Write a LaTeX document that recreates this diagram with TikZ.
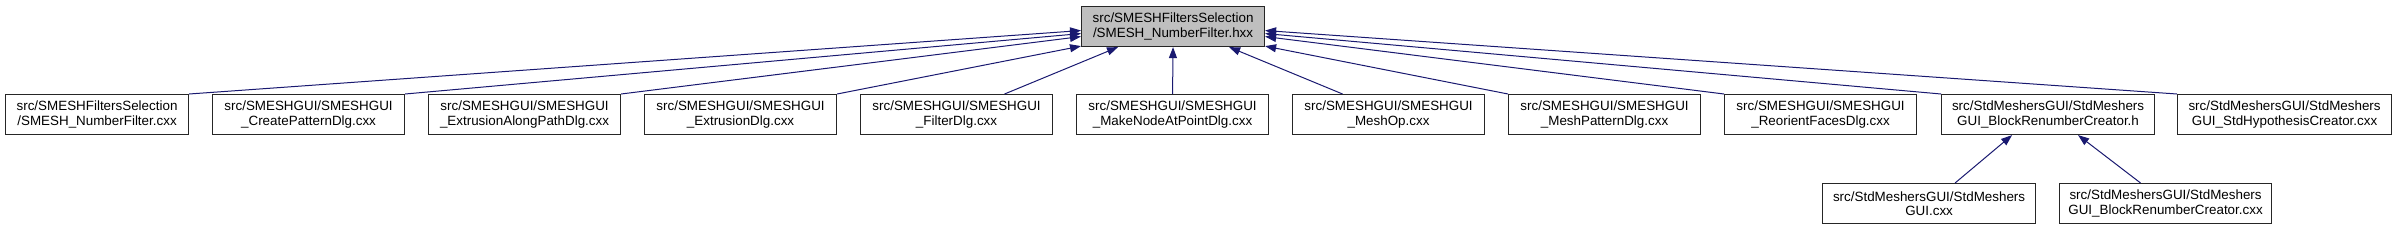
\documentclass[tikz,border=0pt]{standalone}
\usepackage{fontspec}
\setmainfont{Liberation Sans}
\usepackage{tikz}
\usetikzlibrary{arrows.meta,calc}
\definecolor{Edge}{HTML}{191970}
\definecolor{Root}{HTML}{BFBFBF}

\begin{document}
\begin{tikzpicture}[x=1pt, y=-1pt,
  every node/.style={font=\fontsize{13.4}{14.2}\selectfont, align=center},
  file/.style={draw=black!85, fill=white, line width=1.1pt, minimum height=40pt,
               inner sep=0pt, anchor=north west},
  dep/.style={draw=Edge, line width=1pt, -{Triangle[length=11pt,width=8pt]}}]
  \useasboundingbox (0,0) rectangle (2395,231);
  \node[file, fill=Root, minimum width=183pt] (hdr) at (1081,6)
    {src/SMESHFiltersSelection\\/SMESH\_NumberFilter.hxx};
  \node[file, minimum width=183pt] (nfcxx) at (5,94)
    {src/SMESHFiltersSelection\\/SMESH\_NumberFilter.cxx};
  \node[file, minimum width=192pt] (crpat) at (212,94)
    {src/SMESHGUI/SMESHGUI\\\_CreatePatternDlg.cxx};
  \node[file, minimum width=192pt] (extpath) at (428,94)
    {src/SMESHGUI/SMESHGUI\\\_ExtrusionAlongPathDlg.cxx};
  \node[file, minimum width=192pt] (extr) at (644,94)
    {src/SMESHGUI/SMESHGUI\\\_ExtrusionDlg.cxx};
  \node[file, minimum width=192pt] (filt) at (860,94)
    {src/SMESHGUI/SMESHGUI\\\_FilterDlg.cxx};
  \node[file, minimum width=192pt] (mknode) at (1076,94)
    {src/SMESHGUI/SMESHGUI\\\_MakeNodeAtPointDlg.cxx};
  \node[file, minimum width=192pt] (meshop) at (1292,94)
    {src/SMESHGUI/SMESHGUI\\\_MeshOp.cxx};
  \node[file, minimum width=192pt] (mpat) at (1508,94)
    {src/SMESHGUI/SMESHGUI\\\_MeshPatternDlg.cxx};
  \node[file, minimum width=192pt] (reor) at (1724,94)
    {src/SMESHGUI/SMESHGUI\\\_ReorientFacesDlg.cxx};
  \node[file, minimum width=213pt] (brh) at (1941,94)
    {src/StdMeshersGUI/StdMeshers\\GUI\_BlockRenumberCreator.h};
  \node[file, minimum width=214pt] (stdhyp) at (2177,94)
    {src/StdMeshersGUI/StdMeshers\\GUI\_StdHypothesisCreator.cxx};
  \node[file, minimum width=213pt] (smgui) at (1822,183)
    {src/StdMeshersGUI/StdMeshers\\GUI.cxx};
  \node[file, minimum width=212pt] (brcxx) at (2059,183)
    {src/StdMeshersGUI/StdMeshers\\GUI\_BlockRenumberCreator.cxx};
  \draw[dep] (nfcxx.north east) -- ($(hdr.west)+(0,4)$);
  \draw[dep] (crpat.north east) -- ($(hdr.west)+(0,7)$);
  \draw[dep] (extpath.north east) -- ($(hdr.west)+(0,10)$);
  \draw[dep] (extr.north east) -- ($(hdr.south west)+(0,-1)$);
  \draw[dep] ($(filt.north)+(48,0)$) -- ($(hdr.south west)+(37,0)$);
  \draw[dep] (mknode.north) -- (hdr.south);
  \draw[dep] ($(meshop.north)+(-46,0)$) -- ($(hdr.south east)+(-36,0)$);
  \draw[dep] (mpat.north west) -- ($(hdr.south east)+(0,-1)$);
  \draw[dep] (reor.north west) -- ($(hdr.east)+(0,10)$);
  \draw[dep] (brh.north west) -- ($(hdr.east)+(0,7)$);
  \draw[dep] (stdhyp.north west) -- ($(hdr.east)+(0,4)$);
  \draw[dep] ($(smgui.north)+(26,0)$) -- ($(brh.south)+(-36,0)$);
  \draw[dep] ($(brcxx.north)+(-25,0)$) -- ($(brh.south)+(30,0)$);
\end{tikzpicture}
\end{document}
